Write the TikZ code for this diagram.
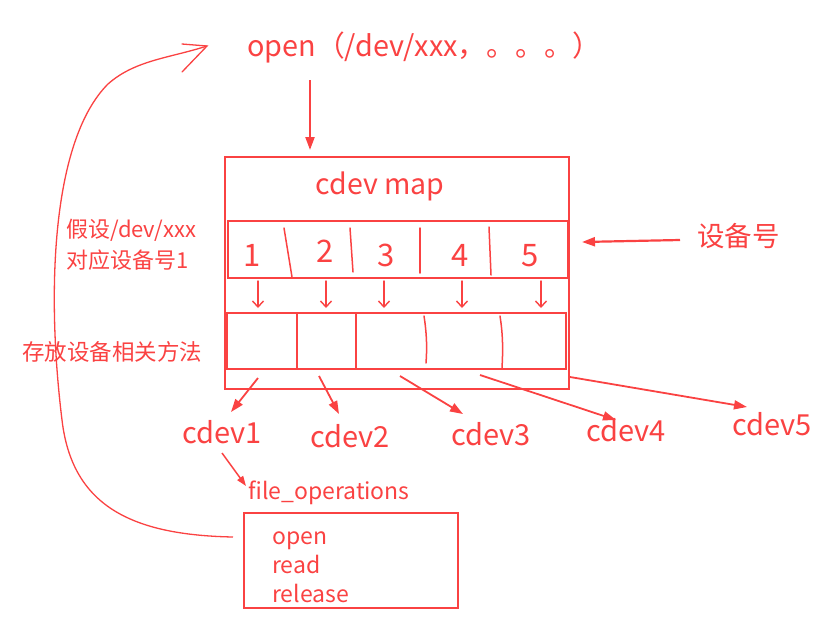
\documentclass[tikz,border=0pt]{standalone}
\usepackage{fontspec}
\setmainfont{Noto Sans CJK SC}
\usetikzlibrary{arrows.meta}
\definecolor{pen}{RGB}{250,66,66}
\newcommand{\fsz}[1]{\fontsize{#1}{#1}\selectfont}
\begin{document}
\begin{tikzpicture}[x=1pt,y=-1pt,
  every node/.style={text=pen, inner sep=0pt},
  boxline/.style={draw=pen, line width=1.8pt},
  thinline/.style={draw=pen, line width=1.5pt, line cap=round},
  bigarrow/.style={draw=pen, line width=2.2pt, -{Triangle[length=13pt,width=9pt]}},
  smallarrow/.style={draw=pen, line width=1.4pt, line cap=round, -{Straight Barb[length=6pt,width=11pt]}},
  cdevlabel/.style={font=\fsz{29}},
  textlabel/.style={font=\fsz{22}, anchor=west},
  oplabel/.style={font=\fsz{23}, anchor=base west},
]
\useasboundingbox (0,0) rectangle (836,630);

% title
\node[anchor=west, font=\fsz{28.8}] (title) at (247,47) {open（/dev/xxx，。。。）};
\coordinate (t0) at (310,80);
\coordinate (t1) at (310,150);
\draw[bigarrow] (t0) -- (t1);

% outer cdev map box
\draw[boxline] (225,157) rectangle (569,389);
\node[font=\fsz{28.5}] (map) at (380,186) {cdev map};

% number row
\draw[boxline] (228,221) rectangle (568,278);
\draw[thinline] (284,228) -- (292,277);
\draw[thinline] (350,228) -- (353,272);
\draw[thinline] (420,228) -- (420,273);
\draw[thinline] (489,227) -- (491,275);
\node[font=\fsz{31}] (d1) at (252,255) {1};
\node[font=\fsz{31}] (d2) at (325,251) {2};
\node[font=\fsz{31}] (d3) at (386,255) {3};
\node[font=\fsz{31}] (d4) at (460,255) {4};
\node[font=\fsz{31}] (d5) at (530,256) {5};

% small arrows
\foreach \x [count=\i] in {258,326,384,462,541}{
  \coordinate (s\i) at (\x,281);
  \coordinate (e\i) at (\x,308);
  \draw[smallarrow] (s\i) -- (e\i);
}

% storage row
\draw[boxline] (227,313) rectangle (566,369);
\draw[thinline] (297,314) -- (297,368);
\draw[thinline] (356,314) -- (356,368);
\draw[thinline] (424,316) .. controls (427,335) and (427,350) .. (426,363);
\draw[thinline] (500,316) .. controls (503,335) and (503,350) .. (502,368);

% cdev labels
\node[cdevlabel] (c1) at (222,432) {cdev1};
\node[cdevlabel] (c2) at (350,436) {cdev2};
\node[cdevlabel] (c3) at (491,434) {cdev3};
\node[cdevlabel] (c4) at (626,430) {cdev4};
\node[cdevlabel] (c5) at (772,424) {cdev5};

\coordinate (p1) at (258,378); \coordinate (q1) at (231,412);
\coordinate (p2) at (319,376); \coordinate (q2) at (339,414);
\coordinate (p3) at (400,376); \coordinate (q3) at (463,414);
\coordinate (p4) at (480,375); \coordinate (q4) at (616,420);
\coordinate (p5) at (570,377); \coordinate (q5) at (747,407);
\foreach \i in {1,...,5}{ \draw[bigarrow, line width=1.8pt] (p\i) -- (q\i); }

% file operations
\node[anchor=west, font=\fsz{23}] (fo) at (248,493) {file\_operations};
\coordinate (f0) at (222,453);
\coordinate (f1) at (246,486);
\draw[bigarrow, line width=1.5pt, -{Triangle[length=10pt,width=7pt]}] (f0) -- (f1);
\draw[boxline] (244,513) rectangle (458,608);
\node[oplabel] (op) at (272,544) {open};
\node[oplabel] (rd) at (272,573) {read};
\node[oplabel] (rl) at (272,602) {release};

% 设备号
\node[anchor=west, font=\fsz{27.5}] (sbh) at (697,236) {设备号};
\coordinate (h0) at (680,240);
\coordinate (h1) at (582,242);
\draw[bigarrow] (h0) -- (h1);

% left labels
\node[textlabel] (l1) at (66,230) {假设/dev/xxx};
\node[textlabel] (l2) at (66,260) {对应设备号1};
\node[textlabel, font=\fsz{22.5}] (l3) at (22,352) {存放设备相关方法};

% return curve
\coordinate (cs) at (233,537);
\coordinate (ce) at (207,46);
\draw[draw=pen, line width=1.3pt] (cs) .. controls (130,535) and (72,505) .. (62,420)
  .. controls (46,290) and (52,140) .. (108,84)
  .. controls (135,60) and (170,58) .. (ce);
\draw[draw=pen, line width=1.3pt, line cap=round] (182,44) -- (ce) -- (182,72);
\end{tikzpicture}
\end{document}
